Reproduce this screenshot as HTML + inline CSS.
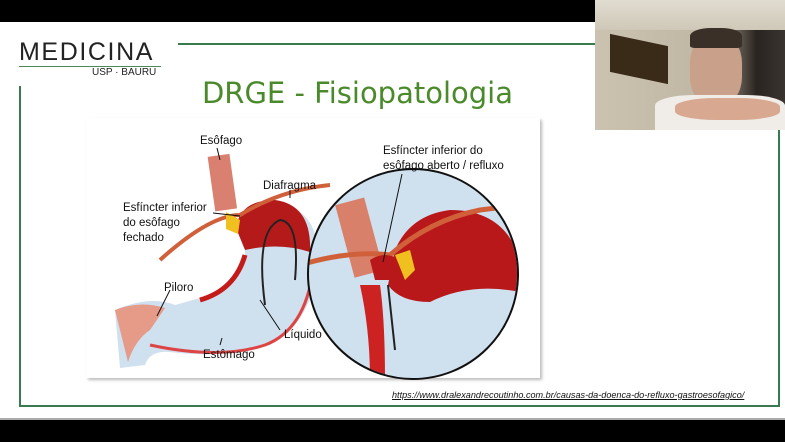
<!DOCTYPE html>
<html><head><style>
body{margin:0;width:785px;height:442px;overflow:hidden;background:#fff;font-family:"Liberation Sans",sans-serif;position:relative}
.a{position:absolute}
</style></head><body>
<div class="a" style="left:0;top:0;width:785px;height:22px;background:#000"></div>
<div class="a" style="left:0;top:420px;width:785px;height:22px;background:#000"></div>
<div class="a" style="left:0;top:418px;width:785px;height:2px;background:#aaa"></div>
<!-- logo -->
<div class="a" style="left:19px;top:38px;font-size:25px;letter-spacing:1.6px;color:#222;">MEDICINA</div>
<div class="a" style="left:19px;top:66px;width:142px;height:1px;background:#4a8a5a"></div>
<div class="a" style="left:92px;top:67px;font-size:10px;color:#222">USP · BAURU</div>
<div class="a" style="left:178px;top:43px;width:420px;height:2px;background:#3a7a50"></div>
<!-- frame -->
<div class="a" style="left:19px;top:86px;width:2px;height:321px;background:#3a7a50"></div>
<div class="a" style="left:19px;top:405px;width:761px;height:2px;background:#3a7a50"></div>
<div class="a" style="left:778px;top:128px;width:2px;height:279px;background:#3a7a50"></div>
<div class="a" style="left:0;top:76px;width:715px;text-align:center;font-size:29px;color:#4a8a2a;font-family:'DejaVu Sans','Liberation Sans',sans-serif;">DRGE - Fisiopatologia</div>
<!-- image -->
<div class="a" style="left:86px;top:118px;width:454px;height:260px;background:#fff;box-shadow:2px 2px 3px #bbb"></div>
<svg class="a" style="left:0;top:0" width="785" height="442">
<!-- stomach left -->
<path d="M115,310 Q150,295 175,305 L200,298 Q235,288 245,258 L245,225 Q255,205 300,212 Q325,230 315,285 Q300,335 260,348 Q220,358 170,352 Q150,350 145,365 L120,368 Z" fill="#cfe0ee"/>
<path d="M115,310 Q140,300 165,308 L150,330 Q135,340 128,362 Z" fill="#e69a88"/>
<path d="M236,228 Q240,200 275,200 Q312,205 310,252 Q280,242 245,250 Z" fill="#b51a1a"/>
<path d="M200,300 Q235,290 245,255" fill="none" stroke="#c41a1a" stroke-width="5"/>
<path d="M150,345 Q220,360 265,345 Q305,330 313,270" fill="none" stroke="#d44" stroke-width="3"/>
<rect x="211" y="155" width="22" height="55" fill="#d98070" transform="rotate(-8 223 180)"/>
<path d="M160,260 Q210,215 240,215 Q280,190 330,185" fill="none" stroke="#d0603a" stroke-width="4"/>
<path d="M226,212 l14,8 -2,14 -12,-5 z" fill="#f0c020"/>
<path d="M265,305 Q255,230 280,220 Q300,222 295,280" fill="none" stroke="#222" stroke-width="2"/>
<!-- circle -->
<circle cx="413" cy="274" r="105" fill="#cfe0ee"/>
<clipPath id="c"><circle cx="413" cy="274" r="104"/></clipPath>
<g clip-path="url(#c)">
<path d="M395,250 Q410,215 450,210 Q505,210 520,260 L520,292 Q470,282 430,302 Q400,302 388,285 Z" fill="#b8181a"/>
<rect x="345" y="200" width="30" height="75" fill="#d9806a" transform="rotate(-15 360 240)"/>
<path d="M300,265 Q350,250 390,255 Q430,220 480,210 L520,205" fill="none" stroke="#d0603a" stroke-width="5"/>
<path d="M360,285 Q370,330 370,380 L385,380 Q385,320 380,285 Z" fill="#c22"/>
<path d="M370,260 q15,-10 30,0 l-5,20 -20,0 z" fill="#b8181a"/>
<path d="M395,255 l15,-5 5,20 -10,10 z" fill="#f0c020"/>
<path d="M388,285 L395,350" stroke="#222" stroke-width="2"/>
</g>
<circle cx="413" cy="274" r="105" fill="none" stroke="#111" stroke-width="2"/>
<g stroke="#111" stroke-width="1">
<line x1="217" y1="148" x2="220" y2="160"/><line x1="290" y1="190" x2="290" y2="198"/>
<line x1="213" y1="213" x2="240" y2="216"/><line x1="170" y1="290" x2="157" y2="316"/>
<line x1="280" y1="330" x2="260" y2="300"/><line x1="220" y1="345" x2="222" y2="338"/>
<line x1="402" y1="174" x2="383" y2="262"/>
</g>
<g font-family="Liberation Sans,sans-serif" font-size="11.5" fill="#111">
<text x="200" y="144">Esôfago</text>
<text x="263" y="189">Diafragma</text>
<text x="123" y="211">Esfíncter inferior</text>
<text x="123" y="226">do esôfago</text>
<text x="123" y="241">fechado</text>
<text x="164" y="291">Piloro</text>
<text x="284" y="338">Líquido</text>
<text x="203" y="358">Estômago</text>
<text x="383" y="154">Esfíncter inferior do</text>
<text x="383" y="169">esôfago aberto / refluxo</text>
</g>
</svg>
<div class="a" style="left:392px;top:390px;font-size:9.1px;font-style:italic;text-decoration:underline;color:#111;white-space:nowrap">https://www.dralexandrecoutinho.com.br/causas-da-doenca-do-refluxo-gastroesofagico/</div>
<!-- webcam -->
<div class="a" style="left:595px;top:0;width:190px;height:130px;background:linear-gradient(90deg,#cbc2b0,#bfb6a3 60%,#2a2420 85%,#3a3430)"></div>
<div class="a" style="left:595px;top:0;width:190px;height:30px;background:linear-gradient(#e0dcd0,#cfc8b8)"></div>
<div class="a" style="left:610px;top:40px;width:58px;height:38px;background:#3a2a18;transform:skewY(12deg)"></div>
<div class="a" style="left:690px;top:35px;width:52px;height:70px;background:#c9a08a;border-radius:40%"></div>
<div class="a" style="left:690px;top:28px;width:52px;height:20px;background:#3a3028;border-radius:40% 40% 10% 10%"></div>
<div class="a" style="left:655px;top:95px;width:130px;height:35px;background:#f0ece8;border-radius:30% 30% 0 0"></div>
<div class="a" style="left:675px;top:98px;width:105px;height:22px;background:#d8a890;border-radius:40%"></div>
</body></html>
